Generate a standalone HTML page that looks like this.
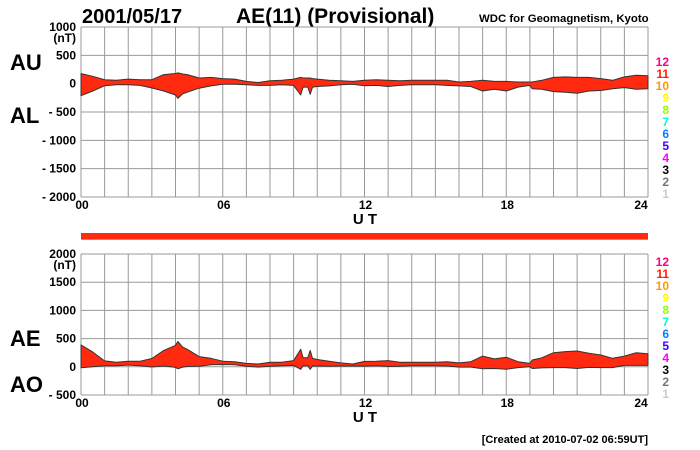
<!DOCTYPE html>
<html><head><meta charset="utf-8"><style>
body{margin:0;background:#fff}
svg{display:block;font-family:"Liberation Sans",Arial,sans-serif;font-weight:bold}
</style></head><body>
<svg id="c" width="700" height="450" viewBox="0 0 700 450">
<text x="82" y="23" font-size="20">2001/05/17</text>
<text x="236" y="23" font-size="21">AE(11) (Provisional)</text>
<text x="479" y="22" font-size="11.4">WDC for Geomagnetism, Kyoto</text>
<text x="10" y="70" font-size="22">AU</text>
<text x="10" y="123" font-size="22">AL</text>
<text x="10" y="346" font-size="22">AE</text>
<text x="10" y="392" font-size="22">AO</text>
<rect x="81" y="233" width="567" height="6" fill="#ff2a10"/>
<line x1="81" y1="239.5" x2="648" y2="239.5" stroke="#999"/>
<text x="648" y="443" font-size="11" text-anchor="end">[Created at 2010-07-02 06:59UT]</text>
</svg>
<script>
const hours=[0,0.5,1,1.5,2,2.5,3,3.5,4,4.1,4.3,4.5,5,5.5,6,6.5,7,7.5,8,8.5,9,9.3,9.4,9.6,9.7,9.8,10,10.5,11,11.5,12,12.5,13,13.5,14,14.5,15,15.5,16,16.5,17,17.5,18,18.5,19,19.1,19.5,20,20.5,21,21.5,22,22.5,23,23.5,24];
const au=[177,130,70,60,80,70,70,160,180,190,170,160,100,110,90,80,40,20,50,60,80,110,100,100,100,90,80,60,50,40,60,70,60,50,60,60,60,60,30,40,60,40,40,30,30,30,60,110,120,110,110,90,60,120,150,140];
const al=[-212,-130,-35,-20,-20,-30,-77,-130,-200,-260,-180,-150,-80,-40,-10,-10,-20,-30,-30,-20,-30,-200,-60,-60,-190,-60,-50,-40,-20,-10,-35,-30,-50,-30,-20,-20,-20,-30,-40,-50,-130,-100,-130,-60,-30,-90,-100,-140,-150,-170,-130,-120,-90,-70,-100,-90];
const topTicks=[1000,500,0,-500,-1000,-1500,-2000];
const botTicks=[2000,1500,1000,500,0,-500];
const xTicks=[0,6,12,18,24];
const legendNums=[12,11,10,9,8,7,6,5,4,3,2,1];
const legendColors=["#ff0080","#ff2000","#ff9900","#ffff00","#99ff00","#00ffcc","#0080ff","#3300ff","#ff00ff","#000","#777","#ccc"];
const ae=au.map((v,i)=>v-al[i]);
const ao=au.map((v,i)=>(v+al[i])/2);

const NS="http://www.w3.org/2000/svg",svg=document.getElementById('c');
function mk(t,a,p){const e=document.createElementNS(NS,t);for(const k in a)e.setAttribute(k,a[k]);(p||svg).appendChild(e);return e;}
const X0=81,X1=648;
const xs=h=>X0+(X1-X0)*h/24;

function panel(name,yTop,yBot,vMax,vMin,ticks,upper,lower,legTop){
  const ys=v=>yTop+(vMax-v)/(vMax-vMin)*(yBot-yTop);
  const g=mk('g',{});
  
  
  for(let h=0;h<=24;h++){const l=mk('line',{x1:xs(h),x2:xs(h),y1:yTop,y2:yBot,stroke:'#999','stroke-width':1},g);
    
    }
  ticks.forEach((t,i)=>{const y=ys(t);
    const l=mk('line',{x1:X0,x2:X1,y1:y,y2:y,stroke:'#999','stroke-width':1},g);
    
    
    const tx=mk('text',{x:76,y:y+4,'font-size':12,'text-anchor':'end'},g);
    tx.textContent=t<0?'- '+(-t):String(t);
    
    
    if(i==0){const u=mk('text',{x:76,y:y+15,'font-size':12,'text-anchor':'end'},g);u.textContent='(nT)';
      
      }
  });
  xTicks.forEach(h=>{const t=mk('text',{x:h==24?xs(h)-7:xs(h)+1,y:yBot+12,'font-size':12,'text-anchor':'middle'},g);
    t.textContent=String(h).padStart(2,'0');
    
    });
  const ut=mk('text',{x:365,y:yBot+27,'font-size':15,'text-anchor':'middle'},g);ut.textContent='U T';
  
  
  let d='M'+hours.map((h,i)=>xs(h).toFixed(1)+','+ys(upper[i]).toFixed(1)).join('L');
  for(let i=hours.length-1;i>=0;i--)d+='L'+xs(hours[i]).toFixed(1)+','+ys(lower[i]).toFixed(1);
  const p=mk('path',{d:d+'Z',fill:'#ff2a10',stroke:'#333','stroke-width':1,'stroke-linejoin':'round'},g);
  
  
  legendNums.forEach((n,i)=>{const t=mk('text',{x:669,y:legTop+i*12,'font-size':12,'text-anchor':'end',fill:legendColors[i]},g);
    t.textContent=n;
    
    });
}
panel('au-al',27,197,1000,-2000,topTicks,au,al,66);
panel('ae-ao',254,395,2000,-500,botTicks,ae,ao,266);
</script>
</body></html>
